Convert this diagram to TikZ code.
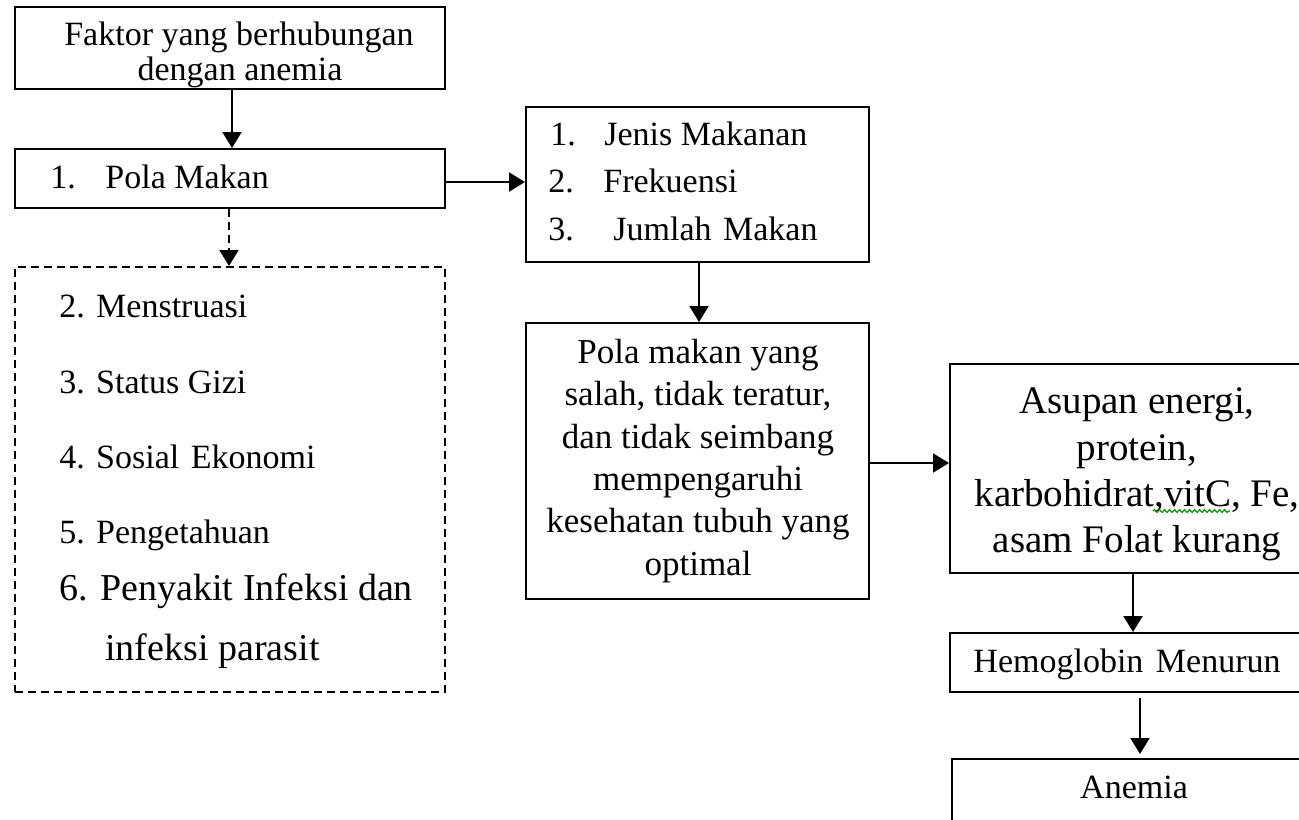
\documentclass[tikz,border=0pt]{standalone}
\usepackage{fontspec}
\setmainfont{Liberation Serif}
\usetikzlibrary{arrows.meta,decorations.pathmorphing}
\begin{document}
\begin{tikzpicture}[x=0.5pt,y=-0.5pt,
  box/.style={draw, line width=1pt, inner sep=0pt},
  dbox/.style={box, dash pattern=on 4pt off 2.5pt},
  arr/.style={line width=1pt, -{Triangle[width=9.5pt,length=8pt]}},
  txt/.style={inner sep=0pt, font=\fontsize{17}{20}\selectfont},
  big/.style={inner sep=0pt, font=\fontsize{19}{22}\selectfont},
  mid/.style={inner sep=0pt, font=\fontsize{17.5}{21}\selectfont},
  huge/.style={inner sep=0pt, font=\fontsize{19.5}{23}\selectfont}]
\useasboundingbox (0,0) rectangle (1299,819);
\fill[white] (0,0) rectangle (1299,819);
\clip (0,0) rectangle (1299,819);

% boxes
\node[box, minimum width=215pt, minimum height=41pt] (b1) at (230,48) {};
\node[box, minimum width=215pt, minimum height=29.5pt] (b2) at (230,178.5) {};
\node[dbox, minimum width=215pt, minimum height=212.5pt] (b3) at (230,479.5) {};
\node[box, minimum width=171.5pt, minimum height=77.5pt] (b4) at (697.5,184.5) {};
\node[box, minimum width=171.5pt, minimum height=138pt] (b5) at (697.5,461) {};
\node[box, minimum width=188pt, minimum height=104.5pt] (b6) at (1138,468.5) {};
\node[box, minimum width=180pt, minimum height=29.5pt] (b7) at (1130,662.5) {};
\node[box, minimum width=182pt, minimum height=45.5pt] (b8) at (1134,804.5) {};

% texts
\node[txt, anchor=base] (t1a) at (239,45) {Faktor yang berhubungan};
\node[txt, anchor=base] (t1b) at (240,80) {dengan anemia};
\node[txt, anchor=base west] (t2n) at (50,188) {1.};
\node[txt, anchor=base west] (t2) at (105,188) {Pola Makan};

\node[txt, anchor=base west] (t3a) at (59,317) {2. Menstruasi};
\node[txt, anchor=base west] (t3b) at (59,393) {3. Status Gizi};
\node[txt, anchor=base west] (t3c) at (59,468) {4. Sosial\hspace{1.5pt} Ekonomi};
\node[txt, anchor=base west] (t3d) at (59,543) {5. Pengetahuan};
\node[big, anchor=base west] (t3e) at (59,600) {6. Penyakit Infeksi dan};
\node[big, anchor=base west] (t3f) at (105,660) {infeksi parasit};

\node[txt, anchor=base west] (t4an) at (550,145) {1.};
\node[txt, anchor=base west] (t4a) at (604,145) {Jenis Makanan};
\node[txt, anchor=base west] (t4bn) at (548,192) {2.};
\node[txt, anchor=base west] (t4b) at (603,192) {Frekuensi};
\node[txt, anchor=base west] (t4cn) at (548,240) {3.};
\node[txt, anchor=base west] (t4c) at (613,240) {Jumlah\hspace{1.5pt} Makan};

\foreach \s/\yy [count=\i] in {Pola makan yang/363, {salah, tidak teratur,}/405, dan tidak seimbang/448, mempengaruhi/490, kesehatan tubuh yang/532, optimal/575}
  \node[mid, anchor=base] (t5l\i) at (698,\yy) {\s};

\foreach \s/\yy [count=\i] in {{Asupan energi,}/413, {protein,}/460, {karbohidrat,vitC, Fe,}/506, asam Folat kurang/552}
  \node[huge, anchor=base] (t6l\i) at (1137,\yy) {\s};

\node[txt, anchor=base] (t7) at (1127,672) {Hemoglobin\hspace{2pt} Menurun};
\node[txt, anchor=base] (t8) at (1134,798) {Anemia};

% spell-check squiggle
\coordinate (sqa) at (1153,511);
\coordinate (sqb) at (1230,511);
\draw[green!60!black, line width=0.6pt, decorate, decoration={snake, amplitude=0.7pt, segment length=2.5pt}] (sqa) -- (sqb);

% level coordinates
\coordinate (y182) at (0,182);
\coordinate (y463) at (0,463);
\coordinate (x232) at (232,0);
\coordinate (x229) at (229,0);
\coordinate (x699) at (699,0);
\coordinate (x1133) at (1133,0);
\coordinate (x1140) at (1140,0);

% connectors
\draw[arr] (b1.south -| x232) -- (b2.north -| x232);
\draw[arr, dash pattern=on 4pt off 2.5pt] (b2.south -| x229) -- (b3.north -| x229);
\draw[arr] (b2.east |- y182) -- (b4.west |- y182);
\draw[arr] (b4.south -| x699) -- (b5.north -| x699);
\draw[arr] (b5.east |- y463) -- (b6.west |- y463);
\draw[arr] (b6.south -| x1133) -- (b7.north -| x1133);
\draw[arr, shorten <=2.5pt, shorten >=2pt] (b7.south -| x1140) -- (b8.north -| x1140);
\end{tikzpicture}
\end{document}
